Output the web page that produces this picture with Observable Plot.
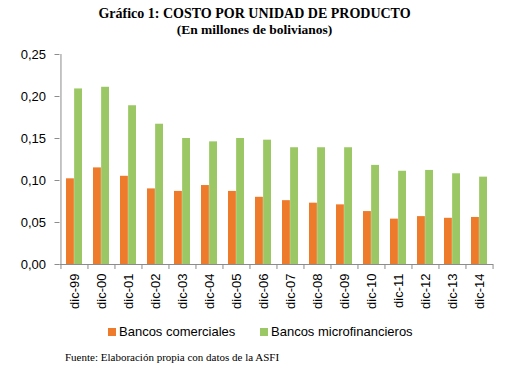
<!DOCTYPE html>
<html><head><meta charset="utf-8">
<script src="https://cdn.jsdelivr.net/npm/d3@7"></script>
<script src="https://cdn.jsdelivr.net/npm/@observablehq/plot@0.6"></script>
<style>
body{margin:0;width:509px;height:376px;background:#fff;position:relative;overflow:hidden}
.t{position:absolute;left:0;width:509px;text-align:center;font-family:"Liberation Serif",serif;font-weight:bold;line-height:16px;color:#000}
#chart{position:absolute;left:0;top:40px}
.leg{position:absolute;top:324px;font-family:"Liberation Sans",sans-serif;font-size:13px;line-height:16px;color:#000;white-space:nowrap}
.sw{display:inline-block;width:8px;height:8px;margin-right:3px;vertical-align:0px}
.foot{position:absolute;left:65px;top:351px;font-family:"Liberation Serif",serif;font-size:11px;line-height:13px;color:#000;white-space:nowrap}
</style></head>
<body>
<div class="t" style="top:6px;font-size:14px">Gráfico 1: COSTO POR UNIDAD DE PRODUCTO</div>
<div class="t" style="top:22px;font-size:13.5px">(En millones de bolivianos)</div>
<div id="chart"></div>
<div class="leg" style="left:108px"><span class="sw" style="background:#EE7A2B"></span>Bancos comerciales</div>
<div class="leg" style="left:260px"><span class="sw" style="background:#9BC865"></span>Bancos microfinancieros</div>
<div class="foot">Fuente: Elaboración propia con datos de la ASFI</div>
<script>
const years = ["dic-99","dic-00","dic-01","dic-02","dic-03","dic-04","dic-05","dic-06","dic-07","dic-08","dic-09","dic-10","dic-11","dic-12","dic-13","dic-14"];
const comerciales = [0.102,0.115,0.105,0.090,0.087,0.094,0.087,0.080,0.076,0.073,0.071,0.063,0.054,0.057,0.055,0.056];
const microfinancieros = [0.209,0.211,0.189,0.167,0.150,0.146,0.150,0.148,0.139,0.139,0.139,0.118,0.111,0.112,0.108,0.104];
const yTicks = [0,0.05,0.10,0.15,0.20,0.25];
const series = ["Bancos comerciales","Bancos microfinancieros"];
const colors = ["#EE7A2B","#9BC865"];

const data = years.flatMap((y,i)=>[
  {year:y, serie:series[0], value:comerciales[i]},
  {year:y, serie:series[1], value:microfinancieros[i]}
]);
const mL = 59.5, mR = 16, W = 509;
const step = (W - mL - mR) / years.length;
const half = step * 0.6 / 2;
const gray = "#8c8c8c";

const chart = Plot.plot({
  width: W, height: 280,
  marginTop: 14, marginBottom: 56, marginLeft: mL, marginRight: mR,
  x: {domain: years, paddingInner: 0.4, paddingOuter: 0.2, axis: null, label: null},
  y: {domain: [0, 0.25], axis: null, label: null},
  style: {fontFamily: "Liberation Sans, sans-serif", fontSize: "13px", color: "#000", background: "#fff"},
  marks: [
    Plot.barY(data.filter(d=>d.serie===series[0]), {x:"year", y:"value", fill:colors[0], insetRight: half}),
    Plot.barY(data.filter(d=>d.serie===series[1]), {x:"year", y:"value", fill:colors[1], insetLeft: half}),
    Plot.ruleY([0], {stroke: gray}),
    Plot.ruleX([years[0]], {y1: 0, y2: 0.25, dx: -step/2, stroke: gray}),
    Plot.axisY({ticks: yTicks, tickSize: 5, tickPadding: 9, stroke: gray, fill: "#000", label: null,
      tickFormat: d => d.toFixed(2).replace(".", ",")}),
    Plot.axisX({ticks: years, tickSize: 5, dx: -step/2, stroke: gray, tickFormat: () => "", label: null}),
    Plot.axisX({ticks: [years[years.length-1]], tickSize: 5, dx: step/2, stroke: gray, tickFormat: () => "", label: null}),
    Plot.axisX({ticks: years, tickSize: 0, tickPadding: 9, tickRotate: -90, fill: "#000", label: null})
  ]
});
document.getElementById("chart").appendChild(chart);
</script>
</body></html>
